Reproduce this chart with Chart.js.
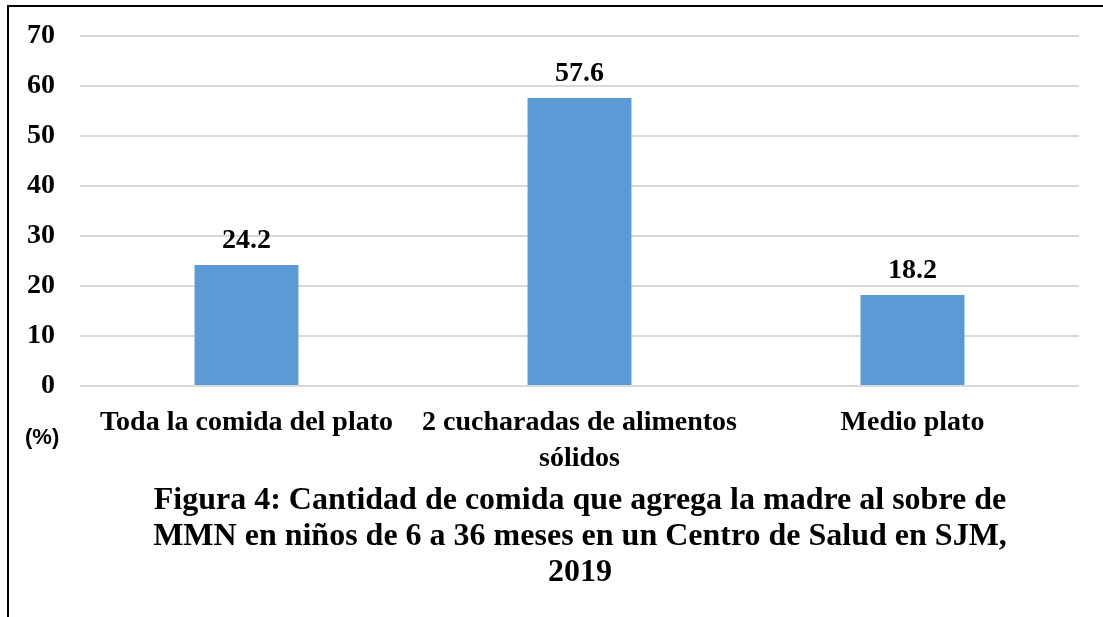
<!DOCTYPE html>
<html>
<head>
<meta charset="utf-8">
<script src="https://cdn.jsdelivr.net/npm/chart.js@4"></script>
<style>
  html, body { margin: 0; padding: 0; background: #fff; }
  #wrap { position: relative; width: 1103px; height: 617px; overflow: hidden; }
  #frameTop { position: absolute; left: 7px; top: 5px; width: 1096px; height: 2px; background: #000; }
  #frameLeft { position: absolute; left: 7px; top: 5px; width: 2px; height: 612px; background: #000; }
  #unit { position: absolute; left: 25px; top: 424px; font: bold 22px "Liberation Sans", Arial, sans-serif; color: #000; }
  #title { position: absolute; left: 60px; width: 1040px; top: 480px; text-align: center;
           font: bold 32px "Liberation Serif", "Times New Roman", serif; line-height: 36px; color: #000; }
  canvas { position: absolute; left: 0; top: 0; }
</style>
</head>
<body>
<div id="wrap">
  <canvas id="chart" width="1103" height="617"></canvas>
  <div id="frameTop"></div>
  <div id="frameLeft"></div>
  <div id="unit">(%)</div>
  <div id="title">Figura 4: Cantidad de comida que agrega la madre al sobre de<br>MMN en niños de 6 a 36 meses en un Centro de Salud en SJM,<br>2019</div>
</div>
<script>
// Data
const categories = [
  'Toda la comida del plato',
  ['2 cucharadas de alimentos', 'sólidos'],
  'Medio plato'
];
const values = [24.2, 57.6, 18.2];
const yTicks = [0, 10, 20, 30, 40, 50, 60, 70];

const serif = '"Liberation Serif", "Times New Roman", serif';

// simple plugin to write the value above each bar
const valueLabels = {
  id: 'valueLabels',
  afterDatasetsDraw(chart) {
    const ctx = chart.ctx;
    const meta = chart.getDatasetMeta(0);
    ctx.save();
    ctx.font = 'bold 28px ' + serif;
    ctx.fillStyle = '#000';
    ctx.textAlign = 'center';
    ctx.textBaseline = 'alphabetic';
    meta.data.forEach(function (bar, i) {
      ctx.fillText(values[i].toFixed(1), bar.x, bar.y - 17);
    });
    ctx.restore();
  }
};

const ctx = document.getElementById('chart').getContext('2d');
new Chart(ctx, {
  type: 'bar',
  data: {
    labels: categories,
    datasets: [{
      data: values,
      backgroundColor: '#5b9bd5',
      borderWidth: 0,
      categoryPercentage: 0.52,
      barPercentage: 0.6
    }]
  },
  options: {
    responsive: false,
    animation: false,
    layout: { padding: { top: 36, right: 24, left: 0, bottom: 131 } },
    plugins: {
      legend: { display: false },
      tooltip: { enabled: false }
    },
    scales: {
      x: {
        afterFit(scale) { scale.height = 100; },
        grid: { display: false, drawTicks: false },
        border: { display: false },
        ticks: {
          autoSkip: false,
          maxRotation: 0,
          minRotation: 0,
          padding: 19,
          color: '#000',
          font: { family: serif, size: 28, weight: 'bold', lineHeight: 1.27 }
        }
      },
      y: {
        min: 0,
        max: 70,
        afterFit(scale) {
          scale.width = 80;
          // tick padding should not push the plot area down
          scale.paddingTop = 0;
          scale.paddingBottom = 0;
        },
        afterBuildTicks(scale) { scale.ticks = yTicks.map(v => ({ value: v })); },
        grid: { color: '#d9d9d9', lineWidth: 2, drawTicks: false },
        border: { display: false },
        ticks: {
          padding: 25,
          color: '#000',
          font: { family: serif, size: 28, weight: 'bold' }
        }
      }
    }
  },
  plugins: [valueLabels]
});
</script>
</body>
</html>
